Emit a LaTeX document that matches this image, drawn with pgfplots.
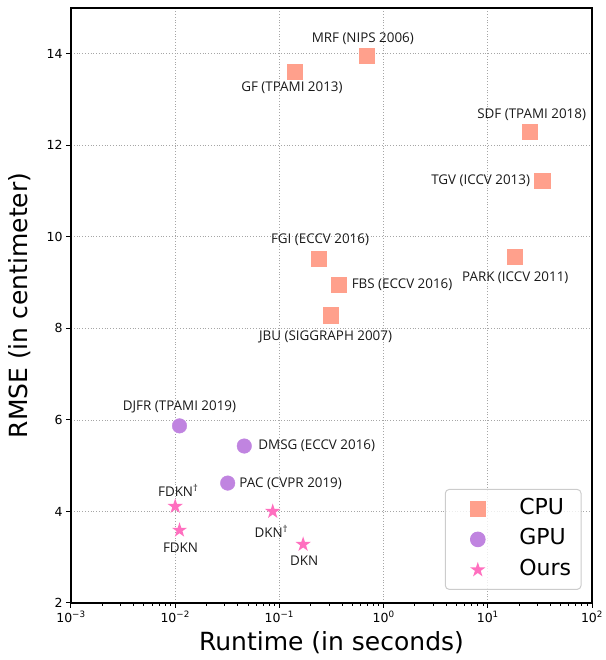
\documentclass[border=0pt]{standalone}
\usepackage{pgfplots}
\pgfplotsset{compat=1.18}
\usepackage{fontspec}
\setmainfont{DejaVu Sans}
\newfontfamily\annfont{Open Sans}
\definecolor{cpucol}{HTML}{FFA08C}
\definecolor{gpucol}{HTML}{C084E0}
\definecolor{ourcol}{HTML}{FF6FBF}
\pgfdeclareplotmark{fstar}{%
  \pgfpathmoveto{\pgfpointpolar{90}{\pgfplotmarksize}}%
  \pgfpathlineto{\pgfpointpolar{126}{0.381966\pgfplotmarksize}}%
  \pgfpathlineto{\pgfpointpolar{162}{\pgfplotmarksize}}%
  \pgfpathlineto{\pgfpointpolar{198}{0.381966\pgfplotmarksize}}%
  \pgfpathlineto{\pgfpointpolar{234}{\pgfplotmarksize}}%
  \pgfpathlineto{\pgfpointpolar{270}{0.381966\pgfplotmarksize}}%
  \pgfpathlineto{\pgfpointpolar{306}{\pgfplotmarksize}}%
  \pgfpathlineto{\pgfpointpolar{342}{0.381966\pgfplotmarksize}}%
  \pgfpathlineto{\pgfpointpolar{18}{\pgfplotmarksize}}%
  \pgfpathlineto{\pgfpointpolar{54}{0.381966\pgfplotmarksize}}%
  \pgfpathclose
  \pgfusepathqfill
}
\pgfplotstableread{
x y
0.141 13.6
0.69 13.96
25.2 12.3
33.3 11.22
18.1 9.56
0.24 9.52
0.37 8.95
0.31 8.29
}\cpu
\pgfplotstableread{
x y
0.011 5.87
0.046 5.43
0.0319 4.62
}\gpu
\pgfplotstableread{
x y
0.0100 4.11
0.011 3.59
0.0863 4.00
0.169 3.28
}\ours
\begin{document}
\begin{tikzpicture}
\begin{axis}[
  name=ax,
  scale only axis, width=521pt, height=595pt,
  xmode=log, xmin=1e-3, xmax=1e2, ymin=2, ymax=15,
  xtick={1e-3,1e-2,1e-1,1,1e1,1e2},
  xticklabels={10\textsuperscript{−3},10\textsuperscript{−2},10\textsuperscript{−1},10\textsuperscript{0},10\textsuperscript{1},10\textsuperscript{2}},
  ytick={2,4,6,8,10,12,14},
  xtick pos=bottom, ytick pos=left,
  tick align=outside,
  major tick length=4.9pt, minor tick length=2.8pt,
  every tick/.style={black, line width=1pt},
  axis line style={line width=1.1pt},
  grid=major,
  major grid style={dash pattern=on 1pt off 1.8pt, color=black!35, line width=0.8pt},
  /pgf/number format/assume math mode=true,
  tick label style={font=\fontsize{12.5}{15}\selectfont},
  xlabel={Runtime (in seconds)}, ylabel={RMSE (in centimeter)},
  label style={font=\fontsize{25}{30}\selectfont},
  xlabel style={at={(axis description cs:0.5,-0.066)}, anchor=center},
  ylabel style={at={(axis description cs:-0.098,0.5)}, anchor=center},
  legend style={at={(0.98,0.022)}, anchor=south east, draw=black!20, line width=1pt,
    rounded corners=4pt, fill=white, fill opacity=0.8, text opacity=1,
    font=\fontsize{22}{26}\selectfont, inner xsep=10pt, inner ysep=9pt,
    row sep=9.5pt,
    nodes={inner sep=0pt, text height=16pt, text depth=5pt}},
  legend cell align=left,
  legend image code/.code={\path (0pt,0pt) (63pt,0pt);\draw[#1, fill opacity=1, draw opacity=1] plot coordinates {(22pt,0pt)};},
]
\addplot[only marks, mark=square*, mark size=7.6pt, color=cpucol, mark options={draw=none,fill=cpucol}] table[x=x,y=y] {\cpu};
\addlegendentry{CPU}
\addplot[only marks, mark=*, mark size=7.3pt, color=gpucol, mark options={draw=none,fill=gpucol}] table[x=x,y=y] {\gpu};
\addlegendentry{GPU}
\addplot[only marks, mark=fstar, mark size=8pt, color=ourcol, mark options={draw=none,fill=ourcol}] table[x=x,y=y] {\ours};
\addlegendentry{Ours}
\begin{scope}[every node/.style={font=\annfont\fontsize{13.4}{16}\selectfont, text=black!90, inner sep=0pt}]
\node[xshift=-4pt,yshift=17pt] at (axis cs:0.69,13.96) {MRF (NIPS 2006)};
\node[xshift=-3pt,yshift=-16pt] at (axis cs:0.141,13.6) {GF (TPAMI 2013)};
\node[xshift=2pt,yshift=17pt] at (axis cs:25.2,12.3) {SDF (TPAMI 2018)};
\node[anchor=east,xshift=-12pt,yshift=0.5pt] at (axis cs:33.3,11.22) {TGV (ICCV 2013)};
\node[xshift=0.6pt,yshift=-21pt] at (axis cs:18.1,9.56) {PARK (ICCV 2011)};
\node[xshift=1pt,yshift=18.7pt] at (axis cs:0.24,9.52) {FGI (ECCV 2016)};
\node[anchor=west,xshift=13pt,yshift=0.5pt] at (axis cs:0.37,8.95) {FBS (ECCV 2016)};
\node[xshift=-5pt,yshift=-21.7pt] at (axis cs:0.31,8.29) {JBU (SIGGRAPH 2007)};
\node[xshift=0pt,yshift=18.6pt] at (axis cs:0.011,5.87) {DJFR (TPAMI 2019)};
\node[anchor=west,xshift=14pt] at (axis cs:0.046,5.43) {DMSG (ECCV 2016)};
\node[anchor=west,xshift=11.6pt,yshift=-0.5pt] at (axis cs:0.0319,4.62) {PAC (CVPR 2019)};
\node[xshift=3pt,yshift=15.7pt] at (axis cs:0.0100,4.11) {FDKN\textsuperscript{†}};
\node[xshift=1pt,yshift=-17.4pt] at (axis cs:0.011,3.59) {FDKN};
\node[xshift=-1.4pt,yshift=-20pt] at (axis cs:0.0863,4.00) {DKN\textsuperscript{†}};
\node[xshift=1pt,yshift=-16pt] at (axis cs:0.169,3.28) {DKN};
\end{scope}
\end{axis}
\pgfresetboundingbox
\path ([xshift=-71pt,yshift=-57pt]ax.south west) rectangle ([xshift=14pt,yshift=8pt]ax.north east);
\end{tikzpicture}
\end{document}
